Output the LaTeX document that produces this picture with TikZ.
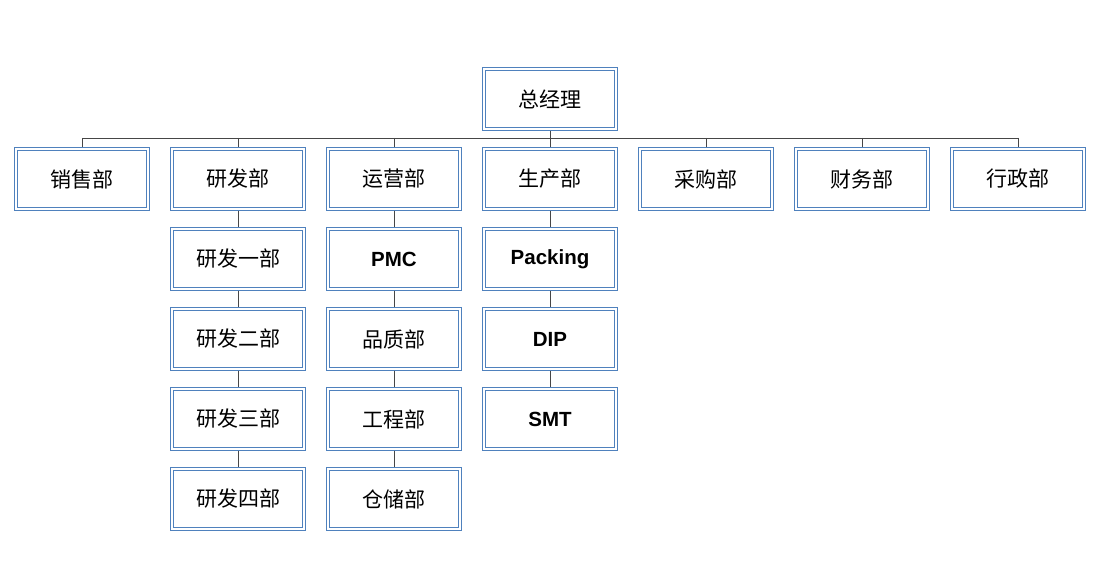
\documentclass[tikz,border=0pt]{standalone}
\usepackage{fontspec}
\setmainfont{Liberation Sans}
\newfontfamily\cjk{Noto Sans CJK SC}
\definecolor{boxblue}{RGB}{79,129,189}
\definecolor{linegray}{RGB}{70,70,70}
\tikzset{
  dept/.style={draw=boxblue, double=white, double distance=2pt, line width=1.15pt,
    fill=white, minimum width=131.7pt, minimum height=59.7pt, inner sep=0pt, outer sep=2.1pt,
    font=\fontsize{21}{24}\selectfont\cjk},
  latin/.style={font=\fontsize{20.5}{24}\selectfont\bfseries},
  link/.style={draw=linegray, line width=0.9pt}
}
\begin{document}
\begin{tikzpicture}[x=1pt,y=-1pt]
\useasboundingbox (0,0) rectangle (1100,572);
\fill[white] (0,0) rectangle (1100,572);

% top
\node[dept] (gm) at (550,99) {总经理};
\coordinate (bus) at (550,138);

% departments
\node[dept] (sales) at (82,179) {销售部};
\node[dept] (rd) at (238,179) {研发部};
\node[dept] (ops) at (394,179) {运营部};
\node[dept] (prod) at (550,179) {生产部};
\node[dept] (purch) at (706,179) {采购部};
\node[dept] (fin) at (862,179) {财务部};
\node[dept] (admin) at (1018,179) {行政部};

% R&D
\node[dept] (rd1) at (238,259) {研发一部};
\node[dept] (rd2) at (238,339) {研发二部};
\node[dept] (rd3) at (238,419) {研发三部};
\node[dept] (rd4) at (238,499) {研发四部};

% operations
\node[dept,latin] (pmc) at (394,259) {PMC};
\node[dept] (qa) at (394,339) {品质部};
\node[dept] (eng) at (394,419) {工程部};
\node[dept] (store) at (394,499) {仓储部};

% production
\node[dept,latin] (pack) at (550,259) {Packing};
\node[dept,latin] (dip) at (550,339) {DIP};
\node[dept,latin] (smt) at (550,419) {SMT};

\draw[link] (gm.south) -- (bus);
\draw[link] (bus -| sales.north) -- (bus -| admin.north);
\draw[link] (bus -| sales.north) -- (sales.north);
\draw[link] (bus -| rd.north) -- (rd.north);
\draw[link] (bus -| ops.north) -- (ops.north);
\draw[link] (bus) -- (prod.north);
\draw[link] (bus -| purch.north) -- (purch.north);
\draw[link] (bus -| fin.north) -- (fin.north);
\draw[link] (bus -| admin.north) -- (admin.north);

\draw[link] (rd.south) -- (rd1.north);
\draw[link] (rd1.south) -- (rd2.north);
\draw[link] (rd2.south) -- (rd3.north);
\draw[link] (rd3.south) -- (rd4.north);

\draw[link] (ops.south) -- (pmc.north);
\draw[link] (pmc.south) -- (qa.north);
\draw[link] (qa.south) -- (eng.north);
\draw[link] (eng.south) -- (store.north);

\draw[link] (prod.south) -- (pack.north);
\draw[link] (pack.south) -- (dip.north);
\draw[link] (dip.south) -- (smt.north);
\end{tikzpicture}
\end{document}
